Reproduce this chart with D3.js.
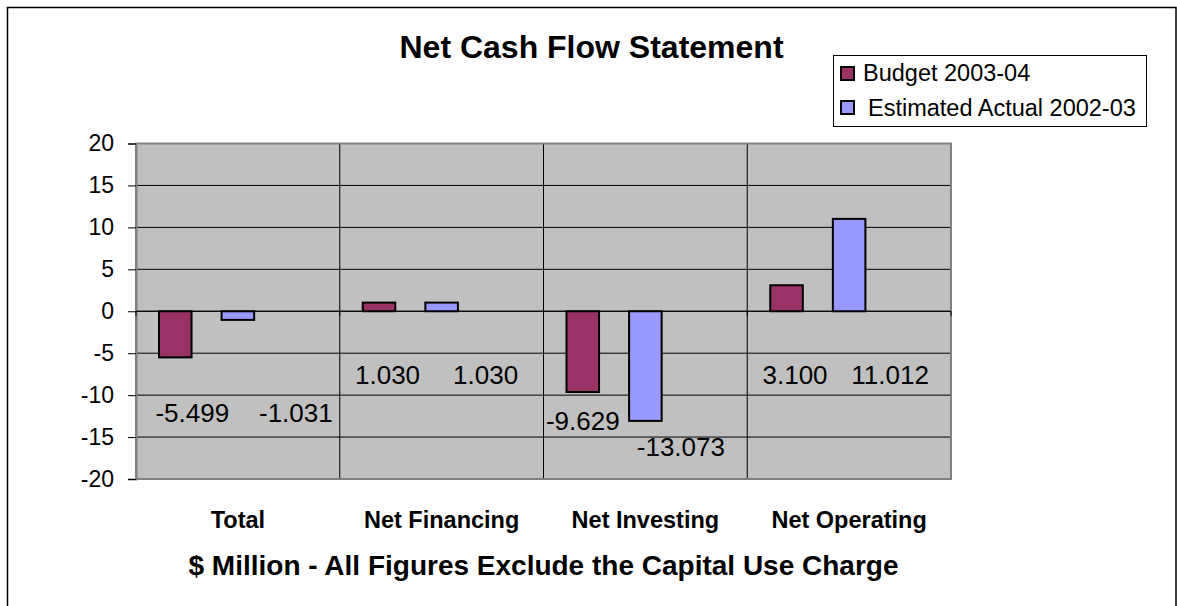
<!DOCTYPE html>
<html>
<head>
<meta charset="utf-8">
<script src="https://cdn.jsdelivr.net/npm/d3@7"></script>
<style>
  html, body { margin: 0; padding: 0; background: #fff; }
  svg { display: block; font-family: "Liberation Sans", Arial, sans-serif; }
</style>
</head>
<body>
<svg id="chart" width="1177" height="606"></svg>
<script>
// ---- data ----
const categories = ["Total", "Net Financing", "Net Investing", "Net Operating"];
const seriesNames = ["Budget 2003-04", "Estimated Actual 2002-03"];
const budget = [-5.499, 1.030, -9.629, 3.100];
const estimated = [-1.031, 1.030, -13.073, 11.012];
const yTicks = [20, 15, 10, 5, 0, -5, -10, -15, -20];
const chartTitle = "Net Cash Flow Statement";
const axisTitle = "$ Million - All Figures Exclude the Capital Use Charge";

// ---- layout / style ----
const colors = ["#993366", "#9999FF"];
const plot = { left: 136, top: 143.5, right: 951, bottom: 479 };
// label placement (manually dragged labels in source): dx from bar centre (px), y in value units
const labelLayout = [
  [{dx: 17, y: -12.1}, {dx: 58, y: -12.1}],
  [{dx: 8.5, y: -7.5}, {dx: 44, y: -7.5}],
  [{dx: 0, y: -13.1}, {dx: 35.5, y: -16.2}],
  [{dx: 8.5, y: -7.6}, {dx: 41, y: -7.6}]
];
const fmtNum = d => d3.format(".3f")(d).replace("\u2212", "-");

const svg = d3.select("#chart");

// outer border
svg.append("rect").attr("x", 7.5).attr("y", 7.5).attr("width", 1168.5).attr("height", 605)
  .attr("fill", "#fff").attr("stroke", "#000").attr("stroke-width", 1.5);

const x = d3.scaleBand().domain(categories).range([plot.left, plot.right]).padding(0);
// three slots per category (source chart reserves an empty third slot)
const xs = d3.scaleBand().domain([0, 1, 2]).range([0, x.bandwidth()])
  .paddingInner(0.48).paddingOuter(0.3675);
const y = d3.scaleLinear().domain([-20, 20]).range([plot.bottom, plot.top]);

// plot background
svg.append("rect").attr("x", plot.left).attr("y", plot.top)
  .attr("width", plot.right - plot.left).attr("height", plot.bottom - plot.top)
  .attr("fill", "#C0C0C0");

// horizontal gridlines
svg.append("g").selectAll("line").data(yTicks.filter(d => d !== -20 && d !== 20)).join("line")
  .attr("x1", plot.left).attr("x2", plot.right)
  .attr("y1", d => y(d)).attr("y2", d => y(d))
  .attr("stroke", "#000").attr("stroke-width", 1);

// vertical gridlines at category boundaries
svg.append("g").selectAll("line").data(categories.slice(1)).join("line")
  .attr("x1", d => x(d)).attr("x2", d => x(d))
  .attr("y1", plot.top).attr("y2", plot.bottom)
  .attr("stroke", "#000").attr("stroke-width", 1);

// plot border
svg.append("rect").attr("x", plot.left).attr("y", plot.top)
  .attr("width", plot.right - plot.left).attr("height", plot.bottom - plot.top)
  .attr("fill", "none").attr("stroke", "#808080").attr("stroke-width", 2);

// y axis
const yAxis = d3.axisLeft(y).tickValues(yTicks).tickSize(8).tickPadding(14).tickFormat(d => String(d));
const gy = svg.append("g").attr("transform", `translate(${plot.left},0)`).call(yAxis);
gy.select(".domain").attr("stroke", "#808080").attr("stroke-width", 2);
gy.selectAll(".tick line").attr("stroke", "#000");
gy.selectAll(".tick text").attr("font-size", 23).attr("fill", "#000")
  .attr("font-family", "Liberation Sans, Arial, sans-serif");

// category axis at zero with tick marks
svg.append("line").attr("x1", plot.left).attr("x2", plot.right)
  .attr("y1", y(0)).attr("y2", y(0)).attr("stroke", "#000").attr("stroke-width", 1.2);
svg.append("g").selectAll("line").data(categories.map(c => x(c)).concat([plot.right])).join("line")
  .attr("x1", d => d).attr("x2", d => d).attr("y1", y(0)).attr("y2", y(0) + 5)
  .attr("stroke", "#000");

// bars
const seriesVals = [budget, estimated];
seriesVals.forEach((vals, si) => {
  svg.append("g").selectAll("rect").data(vals).join("rect")
    .attr("x", (d, i) => x(categories[i]) + xs(si))
    .attr("width", xs.bandwidth())
    .attr("y", d => y(Math.max(0, d)))
    .attr("height", d => Math.abs(y(d) - y(0)))
    .attr("fill", colors[si]).attr("stroke", "#000").attr("stroke-width", 2);
});

// data labels
seriesVals.forEach((vals, si) => {
  svg.append("g").selectAll("text").data(vals).join("text")
    .attr("x", (d, i) => x(categories[i]) + xs(si) + xs.bandwidth() / 2 + labelLayout[i][si].dx)
    .attr("y", (d, i) => y(labelLayout[i][si].y))
    .attr("dy", "0.36em")
    .attr("text-anchor", "middle").attr("font-size", 26).attr("fill", "#000")
    .text(d => fmtNum(d));
});

// category labels
svg.append("g").selectAll("text").data(categories).join("text")
  .attr("x", d => x(d) + x.bandwidth() / 2).attr("y", 528)
  .attr("text-anchor", "middle").attr("font-size", 23.5).attr("font-weight", "bold")
  .text(d => d);

// axis title
svg.append("text").attr("x", (plot.left + plot.right) / 2).attr("y", 575)
  .attr("text-anchor", "middle").attr("font-size", 28).attr("font-weight", "bold")
  .text(axisTitle);

// chart title
svg.append("text").attr("x", 591.5).attr("y", 58)
  .attr("text-anchor", "middle").attr("font-size", 32).attr("font-weight", "bold")
  .text(chartTitle);

// legend
const lg = svg.append("g");
lg.append("rect").attr("x", 833.5).attr("y", 55.5).attr("width", 313).attr("height", 71)
  .attr("fill", "#fff").attr("stroke", "#000").attr("stroke-width", 1);
const legendRows = [
  { sx: 841, sy: 67, tx: 863, ty: 81 },
  { sx: 841, sy: 101, tx: 868, ty: 116 }
];
seriesNames.forEach((name, i) => {
  const r = legendRows[i];
  lg.append("rect").attr("x", r.sx).attr("y", r.sy).attr("width", 13).attr("height", 13)
    .attr("fill", colors[i]).attr("stroke", "#000").attr("stroke-width", 2);
  lg.append("text").attr("x", r.tx).attr("y", r.ty).attr("font-size", 23.5).text(name);
});
</script>
</body>
</html>
